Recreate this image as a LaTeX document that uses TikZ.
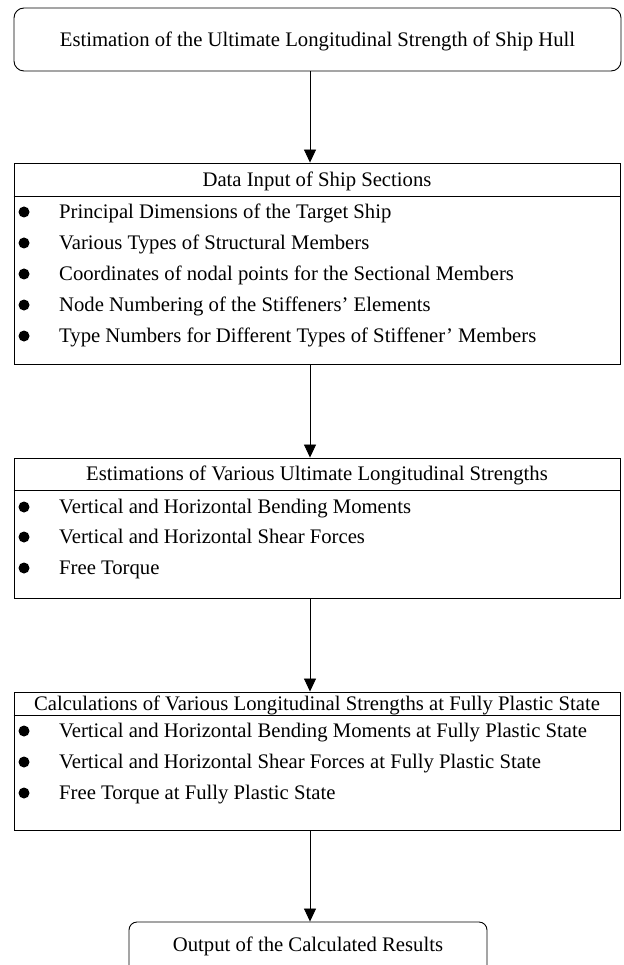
\documentclass[tikz,border=0pt]{standalone}
\usepackage{fontspec}
\setmainfont{Liberation Serif}
\usepackage{tikz}
\usetikzlibrary{arrows.meta, positioning, calc}

\begin{document}
\begin{tikzpicture}[x=1pt, y=-1pt,
  box/.style={draw, line width=0.9pt, inner sep=0pt},
  txt/.style={font=\fontsize{20.7}{24}\selectfont, inner sep=0pt, text height=16pt, text depth=2.3pt},
  item/.style={txt, anchor=west},
  dot/.style={circle, fill, inner sep=0pt, minimum size=11pt},
  arr/.style={line width=0.8pt, -{Triangle[width=12pt, length=13pt]}}]
  \useasboundingbox (0,0) rectangle (623,965);
  \coordinate (ax) at (310,0);

  % Start
  \node[box, rounded corners=10pt, minimum width=607pt, minimum height=63pt] (start) at (317.5, 39.5) {};
  \node[txt] (starttxt) at (start.center) {Estimation of the Ultimate Longitudinal Strength of Ship Hull};

  % Data input
  \node[box, minimum width=606pt, minimum height=201pt] (data) at (317, 263.5) {};
  \node[txt] (datahead) at (317, 179.5) {Data Input of Ship Sections};
  \draw[line width=0.8pt] (data.west |- 0,196) -- (data.east |- 0,196);
  \foreach \y/\t [count=\i] in {212/Principal Dimensions of the Target Ship,
      243/Various Types of Structural Members,
      274/Coordinates of nodal points for the Sectional Members,
      305/Node Numbering of the Stiffeners’ Elements,
      336/Type Numbers for Different Types of Stiffener’ Members}{
    \node[dot] (datadot\i) at (24,\y) {};
    \node[item] (dataitem\i) at (59,\y) {\t};
  }

  % Ultimate strengths
  \node[box, minimum width=606pt, minimum height=140pt] (ult) at (317, 528) {};
  \node[txt] (ulthead) at (317, 474) {Estimations of Various Ultimate Longitudinal Strengths};
  \draw[line width=0.8pt] (ult.west |- 0,490) -- (ult.east |- 0,490);
  \foreach \y/\t [count=\i] in {507/Vertical and Horizontal Bending Moments,
      537/Vertical and Horizontal Shear Forces,
      568/Free Torque}{
    \node[dot] (ultdot\i) at (24,\y) {};
    \node[item] (ultitem\i) at (59,\y) {\t};
  }

  % Fully plastic
  \node[box, minimum width=606pt, minimum height=138pt] (plast) at (317, 761) {};
  \node[txt] (plasthead) at (317, 703.5) {Calculations of Various Longitudinal Strengths at Fully Plastic State};
  \draw[line width=0.8pt] (plast.west |- 0,715) -- (plast.east |- 0,715);
  \foreach \y/\t [count=\i] in {731/Vertical and Horizontal Bending Moments at Fully Plastic State,
      762/Vertical and Horizontal Shear Forces at Fully Plastic State,
      793/Free Torque at Fully Plastic State}{
    \node[dot] (plastdot\i) at (24,\y) {};
    \node[item] (plastitem\i) at (59,\y) {\t};
  }

  % Output
  \node[box, rounded corners=8pt, minimum width=358pt, minimum height=78pt] (out) at (308, 961) {};
  \node[txt] (outtxt) at (308, 945) {Output of the Calculated Results};

  % Arrows
  \draw[arr] (start.south -| ax) -- (data.north -| ax);
  \draw[arr] (data.south -| ax) -- (ult.north -| ax);
  \draw[arr] (ult.south -| ax) -- (plast.north -| ax);
  \draw[arr] (plast.south -| ax) -- (out.north -| ax);
\end{tikzpicture}
\end{document}
